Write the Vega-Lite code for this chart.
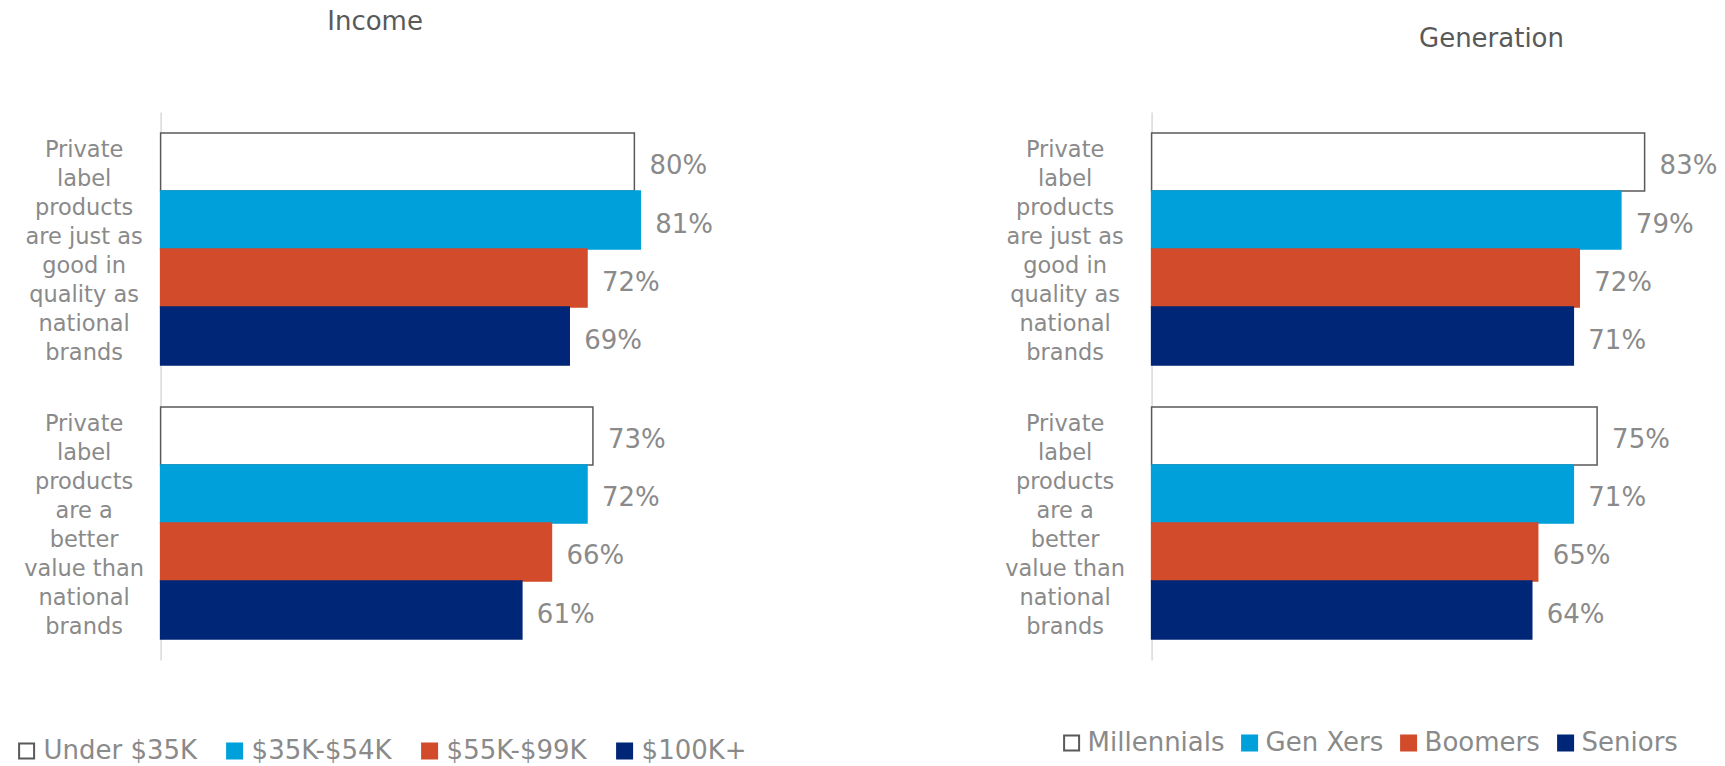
{
  "$schema": "https://vega.github.io/schema/vega-lite/v6.json",
  "background": "white",
  "padding": {"left": 13.6, "top": 9, "right": 0, "bottom": 0},
  "config": {
    "font": "DejaVu Sans",
    "view": {"stroke": null},
    "concat": {"spacing": 257},
    "legend": {"padding": 0}
  },
  "datasets": {
    "income": [
      {"statement": "Private|label|products|are just as|good in|quality as|national|brands", "group": "Under $35K", "value": 0.80},
      {"statement": "Private|label|products|are just as|good in|quality as|national|brands", "group": "$35K-$54K", "value": 0.81},
      {"statement": "Private|label|products|are just as|good in|quality as|national|brands", "group": "$55K-$99K", "value": 0.72},
      {"statement": "Private|label|products|are just as|good in|quality as|national|brands", "group": "$100K+", "value": 0.69},
      {"statement": "Private|label|products|are a|better|value than|national|brands", "group": "Under $35K", "value": 0.73},
      {"statement": "Private|label|products|are a|better|value than|national|brands", "group": "$35K-$54K", "value": 0.72},
      {"statement": "Private|label|products|are a|better|value than|national|brands", "group": "$55K-$99K", "value": 0.66},
      {"statement": "Private|label|products|are a|better|value than|national|brands", "group": "$100K+", "value": 0.61}
    ],
    "generation": [
      {"statement": "Private|label|products|are just as|good in|quality as|national|brands", "group": "Millennials", "value": 0.83},
      {"statement": "Private|label|products|are just as|good in|quality as|national|brands", "group": "Gen Xers", "value": 0.79},
      {"statement": "Private|label|products|are just as|good in|quality as|national|brands", "group": "Boomers", "value": 0.72},
      {"statement": "Private|label|products|are just as|good in|quality as|national|brands", "group": "Seniors", "value": 0.71},
      {"statement": "Private|label|products|are a|better|value than|national|brands", "group": "Millennials", "value": 0.75},
      {"statement": "Private|label|products|are a|better|value than|national|brands", "group": "Gen Xers", "value": 0.71},
      {"statement": "Private|label|products|are a|better|value than|national|brands", "group": "Boomers", "value": 0.65},
      {"statement": "Private|label|products|are a|better|value than|national|brands", "group": "Seniors", "value": 0.64}
    ]
  },
  "hconcat": [
    {
      "data": {"name": "income"},
      "width": 533,
      "height": 548,
      "title": {"text": "Income", "anchor": "middle", "frame": "group", "dx": -52, "offset": 51, "baseline": "bottom", "fontSize": 26, "fontWeight": "normal", "color": "#595959"},
      "encoding": {
        "y": {"field": "statement", "type": "nominal", "sort": null, "title": null,
          "scale": {"paddingInner": 0.153, "paddingOuter": 0.0766},
          "axis": {"ticks": false, "tickSize": 0, "domain": true, "domainColor": "#d9d9d9", "domainWidth": 1.5, "grid": false,
            "labelAlign": "center", "labelBaseline": "middle", "labelPadding": 77, "labelOffset": -99.3, "labelFontSize": 22.5, "labelLineHeight": 29,
            "labelColor": "#8a8a8a", "labelExpr": "split(datum.label, '|')", "labelLimit": 400}},
        "yOffset": {"field": "group", "type": "nominal", "sort": null, "scale": {"paddingInner": 0, "paddingOuter": 0}},
        "x": {"field": "value", "type": "quantitative", "scale": {"domain": [0, 0.9]}, "axis": null}
      },
      "layer": [
        {
          "mark": {"type": "bar", "strokeWidth": 1.5},
          "encoding": {
            "fill": {"field": "group", "type": "nominal", "sort": null,
              "scale": {"domain": ["Under $35K", "$35K-$54K", "$55K-$99K", "$100K+"], "range": ["#ffffff", "#00a0da", "#d24b2b", "#002677"]},
              "legend": {"orient": "none", "legendX": -147, "legendY": 626, "direction": "horizontal", "title": null, "symbolType": "square", "symbolSize": 225, "symbolStrokeWidth": 2, "labelFontSize": 26, "labelColor": "#8a8a8a", "columnPadding": 24, "labelOffset": 4, "labelLimit": 400}},
            "stroke": {"field": "group", "type": "nominal", "sort": null,
              "scale": {"domain": ["Under $35K", "$35K-$54K", "$55K-$99K", "$100K+"], "range": ["#595959", "#00a0da", "#d24b2b", "#002677"]},
              "legend": {"orient": "none", "legendX": -147, "legendY": 626, "direction": "horizontal", "title": null, "symbolType": "square", "symbolSize": 225, "symbolStrokeWidth": 2, "labelFontSize": 26, "labelColor": "#8a8a8a", "columnPadding": 24, "labelOffset": 4, "labelLimit": 400}}
          }
        },
        {
          "mark": {"type": "text", "align": "left", "baseline": "middle", "dx": 15, "dy": 4.5, "fontSize": 26, "color": "#8a8a8a"},
          "encoding": {"text": {"field": "value", "type": "quantitative", "format": ".0%"}}
        }
      ]
    },
    {
      "data": {"name": "generation"},
      "width": 534.6,
      "height": 548,
      "title": {"text": "Generation", "anchor": "middle", "frame": "group", "dx": 72.6, "offset": 34.5, "baseline": "bottom", "fontSize": 26, "fontWeight": "normal", "color": "#595959"},
      "encoding": {
        "y": {"field": "statement", "type": "nominal", "sort": null, "title": null,
          "scale": {"paddingInner": 0.153, "paddingOuter": 0.0766},
          "axis": {"ticks": false, "tickSize": 0, "domain": true, "domainColor": "#d9d9d9", "domainWidth": 1.5, "grid": false,
            "labelAlign": "center", "labelBaseline": "middle", "labelPadding": 87, "labelOffset": -99.3, "labelFontSize": 22.5, "labelLineHeight": 29,
            "labelColor": "#8a8a8a", "labelExpr": "split(datum.label, '|')", "labelLimit": 400}},
        "yOffset": {"field": "group", "type": "nominal", "sort": null, "scale": {"paddingInner": 0, "paddingOuter": 0}},
        "x": {"field": "value", "type": "quantitative", "scale": {"domain": [0, 0.9]}, "axis": null}
      },
      "layer": [
        {
          "mark": {"type": "bar", "strokeWidth": 1.5},
          "encoding": {
            "fill": {"field": "group", "type": "nominal", "sort": null,
              "scale": {"domain": ["Millennials", "Gen Xers", "Boomers", "Seniors"], "range": ["#ffffff", "#00a0da", "#d24b2b", "#002677"]},
              "legend": {"orient": "none", "legendX": -93, "legendY": 618, "direction": "horizontal", "title": null, "symbolType": "square", "symbolSize": 225, "symbolStrokeWidth": 2, "labelFontSize": 26, "labelColor": "#8a8a8a", "columnPadding": 12, "labelOffset": 3, "labelLimit": 400}},
            "stroke": {"field": "group", "type": "nominal", "sort": null,
              "scale": {"domain": ["Millennials", "Gen Xers", "Boomers", "Seniors"], "range": ["#595959", "#00a0da", "#d24b2b", "#002677"]},
              "legend": {"orient": "none", "legendX": -93, "legendY": 618, "direction": "horizontal", "title": null, "symbolType": "square", "symbolSize": 225, "symbolStrokeWidth": 2, "labelFontSize": 26, "labelColor": "#8a8a8a", "columnPadding": 12, "labelOffset": 3, "labelLimit": 400}}
          }
        },
        {
          "mark": {"type": "text", "align": "left", "baseline": "middle", "dx": 15, "dy": 4.5, "fontSize": 26, "color": "#8a8a8a"},
          "encoding": {"text": {"field": "value", "type": "quantitative", "format": ".0%"}}
        }
      ]
    }
  ],
  "resolve": {"scale": {"y": "independent", "yOffset": "independent", "fill": "independent", "stroke": "independent"}, "legend": {"fill": "independent", "stroke": "independent"}}
}
